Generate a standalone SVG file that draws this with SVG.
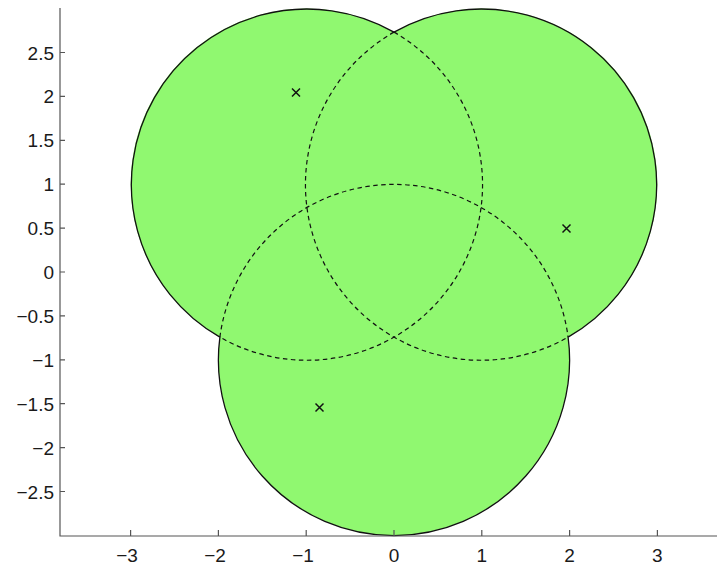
<svg xmlns="http://www.w3.org/2000/svg" width="717" height="569" viewBox="0 0 717 569">
<style>
.fill{fill:#90f870;stroke:none}
.dash{fill:none;stroke:#111;stroke-width:1.2;stroke-dasharray:4.5,3.5}
.outline{fill:none;stroke:#111;stroke-width:1.3}
.axis{stroke:#555;stroke-width:1.2;fill:none}
.mark{stroke:#111;stroke-width:1.5}
text{font-family:"Liberation Sans",Arial,sans-serif;font-size:19px;fill:#1a1a1a}
.yl{text-anchor:end}
.xl{text-anchor:middle}
</style>
<rect width="717" height="569" fill="#fff"/>
<g id="discs">
<circle class="fill" cx="306.2" cy="184.2" r="175.6"/>
<circle class="fill" cx="481.8" cy="184.2" r="175.6"/>
<circle class="fill" cx="394" cy="359.8" r="175.6"/>
</g>
<g id="inner-arcs">
<path class="dash" d="M394 32.13 A175.6 175.6 0 0 1 219.89 337.15"/>
<path class="dash" d="M394 32.13 A175.6 175.6 0 0 0 568.11 337.15"/>
<path class="dash" d="M219.89 337.15 A175.6 175.6 0 0 1 568.11 337.15"/>
</g>
<g id="outline">
<path class="outline" d="M394 32.13 A175.6 175.6 0 1 0 219.89 337.15 A175.6 175.6 0 1 0 568.11 337.15 A175.6 175.6 0 1 0 394 32.13 Z"/>
</g>
<g id="markers">
<path class="mark" d="M292 88.5 l8 8 M300 88.5 l-8 8"/>
<path class="mark" d="M562.5 224.5 l8 8 M570.5 224.5 l-8 8"/>
<path class="mark" d="M315.5 403.5 l8 8 M323.5 403.5 l-8 8"/>
</g>
<g id="axes">
<path class="axis" d="M60 8 V536 H717"/>
<path class="axis" d="M60 52.5h5 M60 96.4h5 M60 140.3h5 M60 184.2h5 M60 228.1h5 M60 272h5 M60 315.9h5 M60 359.8h5 M60 403.7h5 M60 447.6h5 M60 491.5h5"/>
<path class="axis" d="M130.6 536v-6 M218.4 536v-6 M306.2 536v-6 M394 536v-6 M481.8 536v-6 M569.6 536v-6 M657.4 536v-6"/>
<text class="yl" x="54" y="59.5">2.5</text>
<text class="yl" x="54" y="103.4">2</text>
<text class="yl" x="54" y="147.3">1.5</text>
<text class="yl" x="54" y="191.2">1</text>
<text class="yl" x="54" y="235.1">0.5</text>
<text class="yl" x="54" y="279">0</text>
<text class="yl" x="54" y="322.9">−0.5</text>
<text class="yl" x="54" y="366.8">−1</text>
<text class="yl" x="54" y="410.7">−1.5</text>
<text class="yl" x="54" y="454.6">−2</text>
<text class="yl" x="54" y="498.5">−2.5</text>
<text class="xl" x="127" y="562">−3</text>
<text class="xl" x="215" y="562">−2</text>
<text class="xl" x="303" y="562">−1</text>
<text class="xl" x="394" y="562">0</text>
<text class="xl" x="481.8" y="562">1</text>
<text class="xl" x="569.6" y="562">2</text>
<text class="xl" x="657.4" y="562">3</text>
</g>
</svg>
